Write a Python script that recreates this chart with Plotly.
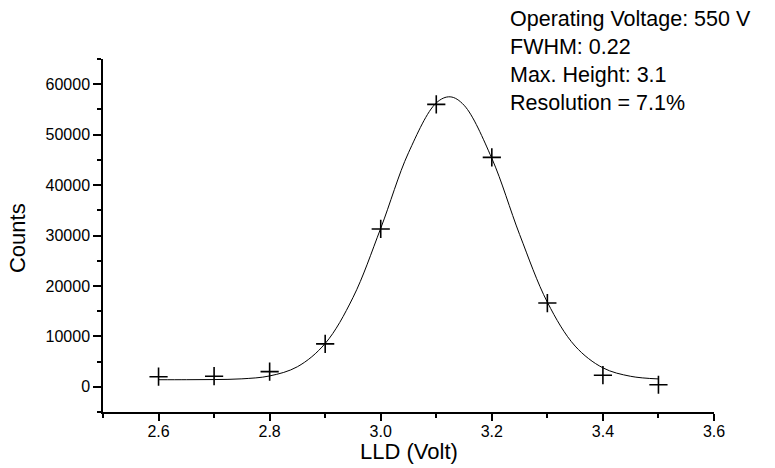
import plotly.graph_objects as go

# Measured data points (LLD in Volt, Counts)
lld_volt = [2.6, 2.7, 2.8, 2.9, 3.0, 3.1, 3.2, 3.3, 3.4, 3.5]
counts = [2000, 2100, 3000, 8500, 31300, 56000, 45500, 16600, 2300, 400]

# Gaussian fit curve
fit_x = [2.60, 2.65, 2.70, 2.75, 2.80, 2.85, 2.90, 2.95, 3.00, 3.05, 3.10, 3.125,
         3.15, 3.20, 3.25, 3.30, 3.35, 3.40, 3.45, 3.50]
fit_y = [1400, 1405, 1434, 1578, 2153, 3980, 8587, 17686, 31425, 46415, 56288, 57500,
         55833, 45309, 30207, 16771, 8072, 3754, 2077, 1558]

info_lines = ["Operating Voltage: 550 V", "FWHM: 0.22", "Max. Height: 3.1", "Resolution = 7.1%"]
x_title = "LLD (Volt)"
y_title = "Counts"

FONT = "Liberation Sans, Arial, sans-serif"

fig = go.Figure()
fig.add_trace(go.Scatter(
    x=fit_x, y=fit_y, mode="lines", line=dict(color="black", width=1, shape="spline"),
    showlegend=False, hoverinfo="skip"))
fig.add_trace(go.Scatter(
    x=lld_volt, y=counts, mode="markers",
    marker=dict(symbol="cross-thin", size=13, line=dict(color="black", width=1.6)),
    showlegend=False))

fig.add_annotation(
    text="<br>".join(info_lines), xref="paper", yref="paper", x=0.663, y=1.152,
    xanchor="left", yanchor="top", align="left", showarrow=False,
    font=dict(family=FONT, size=21.5, color="black"))
fig.add_annotation(
    text=x_title, xref="paper", yref="paper", x=0.5, y=-0.113,
    xanchor="center", yanchor="middle", showarrow=False,
    font=dict(family=FONT, size=22, color="black"))
fig.add_annotation(
    text=y_title, xref="paper", yref="paper", x=-0.139, y=0.493, textangle=-90,
    xanchor="center", yanchor="middle", showarrow=False,
    font=dict(family=FONT, size=22, color="black"))

fig.update_layout(
    width=775, height=468,
    margin=dict(l=103, r=61, t=59, b=56),
    paper_bgcolor="white", plot_bgcolor="white",
    font=dict(family=FONT, color="black"),
    xaxis=dict(
        range=[2.5, 3.6], dtick=0.2, tick0=2.6, tickformat=".1f", automargin=False,
        showgrid=False, zeroline=False, showline=True, linecolor="black", linewidth=1.5,
        ticks="outside", ticklen=7, tickwidth=1.5, tickcolor="black", ticklabelstandoff=-3,
        minor=dict(dtick=0.1, ticks="outside", ticklen=4, tickwidth=1.5, tickcolor="black", showgrid=False),
        tickfont=dict(size=16, family=FONT)),
    yaxis=dict(
        range=[-5000, 65000], dtick=10000, tick0=0, tickformat="d", automargin=False,
        showgrid=False, zeroline=False, showline=True, linecolor="black", linewidth=1.5,
        ticks="outside", ticklen=8, tickwidth=1.5, tickcolor="black",
        minor=dict(dtick=5000, ticks="outside", ticklen=4, tickwidth=1.5, tickcolor="black", showgrid=False),
        tickfont=dict(size=16, family=FONT)),
)

fig.write_html("out.html")
